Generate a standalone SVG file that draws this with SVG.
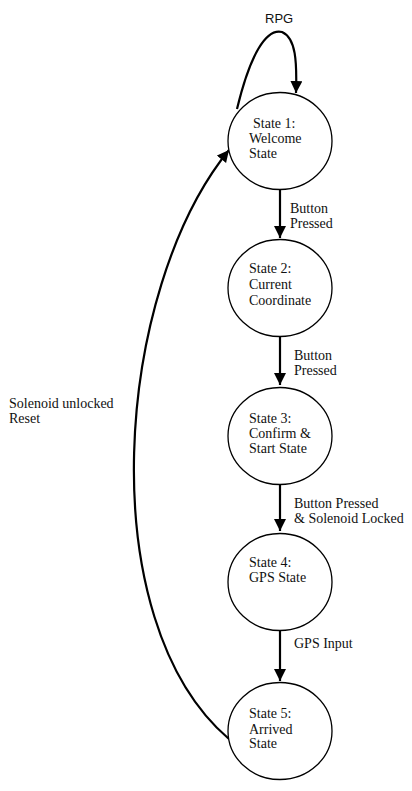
<svg xmlns="http://www.w3.org/2000/svg" width="412" height="791" viewBox="0 0 412 791">
<style>
.node ellipse{fill:#fff;stroke:#000;stroke-width:1.3}
text{font-family:"Liberation Serif","Times New Roman",serif;font-size:14px;fill:#111}
.sans{font-family:"Liberation Sans",Arial,sans-serif;font-size:13px}
.edge{fill:none;stroke:#000;stroke-width:2.2}
</style>
<defs>
<marker id="ah" markerUnits="userSpaceOnUse" markerWidth="12" markerHeight="14" viewBox="0 0 12 14" refX="12" refY="6" orient="auto">
<path d="M0,0 L12,6 L0,12 Z" fill="#000"/>
</marker>
</defs>
<rect width="412" height="791" fill="#fff"/>
<g id="connectors">
<path class="edge" d="M280,190 L280,238" marker-end="url(#ah)"/>
<path class="edge" d="M280,337 L280,385" marker-end="url(#ah)"/>
<path class="edge" d="M280,485 L280,531" marker-end="url(#ah)"/>
<path class="edge" d="M280,631 L280,681" marker-end="url(#ah)"/>
<path class="edge" d="M237,109 C250,55 266,28 282,32 C296,38 297,62 296,93" marker-end="url(#ah)"/>
<path class="edge" d="M229,739 C90,620 115,290 229,150" marker-end="url(#ah)"/>
</g>
<g id="labels">
<text class="sans" x="265" y="23">RPG</text>
<text x="290" y="213">Button</text>
<text x="290" y="228">Pressed</text>
<text x="294" y="360">Button</text>
<text x="294" y="375">Pressed</text>
<text x="294" y="508">Button Pressed</text>
<text x="294" y="523">&amp; Solenoid Locked</text>
<text x="294" y="648">GPS Input</text>
<text x="9" y="408">Solenoid unlocked</text>
<text x="9" y="423">Reset</text>
</g>
<g id="state1" class="node">
<ellipse cx="280" cy="141" rx="52" ry="48.5"/>
<text x="253" y="128">State 1:</text>
<text x="249" y="143">Welcome</text>
<text x="249" y="158">State</text>
</g>
<g id="state2" class="node">
<ellipse cx="280" cy="288" rx="52" ry="48.5"/>
<text x="249" y="273">State 2:</text>
<text x="249" y="289">Current</text>
<text x="249" y="305">Coordinate</text>
</g>
<g id="state3" class="node">
<ellipse cx="280" cy="436" rx="52" ry="48.5"/>
<text x="249" y="423">State 3:</text>
<text x="249" y="438">Confirm &amp;</text>
<text x="249" y="453">Start State</text>
</g>
<g id="state4" class="node">
<ellipse cx="280" cy="582" rx="52" ry="48.5"/>
<text x="249" y="567">State 4:</text>
<text x="249" y="582">GPS State</text>
</g>
<g id="state5" class="node">
<ellipse cx="280" cy="731" rx="52" ry="48.5"/>
<text x="249" y="718">State 5:</text>
<text x="249" y="734">Arrived</text>
<text x="249" y="748">State</text>
</g>
</svg>
